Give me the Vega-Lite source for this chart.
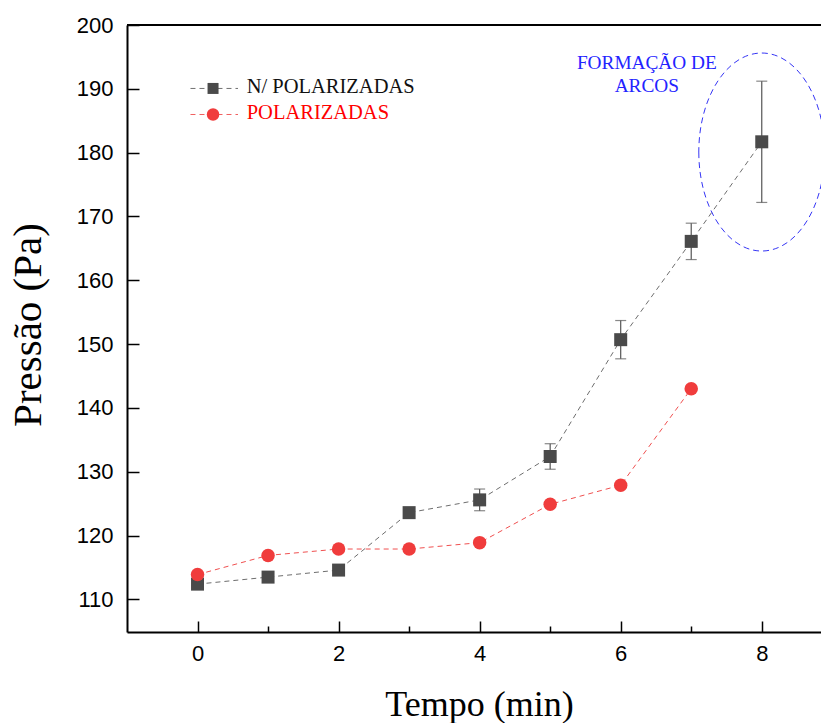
{
  "$schema": "https://vega.github.io/schema/vega-lite/v6.json",
  "width": 694,
  "height": 607,
  "autosize": {"type": "none"},
  "padding": {"left": 127, "top": 25, "right": 0, "bottom": 91},
  "background": "white",
  "config": {"view": {"stroke": null}, "font": "Liberation Sans"},
  "datasets": {
    "medidas": [
      {"serie": "N/ POLARIZADAS", "t": 0, "p": 112.4, "err": 0.4},
      {"serie": "N/ POLARIZADAS", "t": 1, "p": 113.5, "err": 0.4},
      {"serie": "N/ POLARIZADAS", "t": 2, "p": 114.6, "err": 0.5},
      {"serie": "N/ POLARIZADAS", "t": 3, "p": 123.6, "err": 0.4},
      {"serie": "N/ POLARIZADAS", "t": 4, "p": 125.6, "err": 1.7},
      {"serie": "N/ POLARIZADAS", "t": 5, "p": 132.4, "err": 2.0},
      {"serie": "N/ POLARIZADAS", "t": 6, "p": 150.7, "err": 3.0},
      {"serie": "N/ POLARIZADAS", "t": 7, "p": 166.1, "err": 2.85},
      {"serie": "N/ POLARIZADAS", "t": 8, "p": 181.7, "err": 9.5},
      {"serie": "POLARIZADAS", "t": 0, "p": 113.9},
      {"serie": "POLARIZADAS", "t": 1, "p": 116.9},
      {"serie": "POLARIZADAS", "t": 2, "p": 117.9},
      {"serie": "POLARIZADAS", "t": 3, "p": 117.9},
      {"serie": "POLARIZADAS", "t": 4, "p": 118.9},
      {"serie": "POLARIZADAS", "t": 5, "p": 124.9},
      {"serie": "POLARIZADAS", "t": 6, "p": 127.9},
      {"serie": "POLARIZADAS", "t": 7, "p": 143.0}
    ]
  },
  "data": {"name": "medidas"},
  "layer": [
    {
      "transform": [{"filter": "datum.serie === 'N/ POLARIZADAS'"}],
      "mark": {"type": "line", "color": "#6e6e6e", "strokeWidth": 1, "strokeDash": [5, 4]},
      "encoding": {
        "x": {
          "field": "t", "type": "quantitative", "title": "Tempo (min)",
          "scale": {"domain": [-1, 8.84], "nice": false, "zero": false},
          "axis": {
            "values": [0, 1, 2, 3, 4, 5, 6, 7, 8],
            "format": "d",
            "labelExpr": "datum.value % 2 === 0 ? datum.label : ''",
            "tickSize": {"condition": {"test": "datum.value % 2 === 0", "value": -11}, "value": -6},
            "tickWidth": 1.5, "tickColor": "black",
            "domainColor": "black", "domainWidth": 2,
            "labelFont": "Liberation Sans", "labelFontSize": 22, "labelColor": "black",
            "labelPadding": 22, "labelOverlap": false, "labelFlush": false,
            "grid": false,
            "titleFont": "Liberation Serif", "titleFontSize": 36,
            "titleFontWeight": "normal", "titleColor": "black",
            "titleX": 352, "titleY": 83.5, "titleAlign": "center", "titleBaseline": "alphabetic"
          }
        },
        "y": {
          "field": "p", "type": "quantitative", "title": "Pressão (Pa)",
          "scale": {"domain": [104.9, 200], "nice": false, "zero": false},
          "axis": {
            "values": [110, 115, 120, 125, 130, 135, 140, 145, 150, 155, 160, 165, 170, 175, 180, 185, 190, 195, 200],
            "format": "d",
            "labelExpr": "datum.value % 10 === 0 ? datum.label : ''",
            "tickSize": {"condition": {"test": "datum.value % 10 === 0", "value": -12}, "value": -6},
            "tickWidth": 1.5, "tickColor": "black",
            "domainColor": "black", "domainWidth": 2,
            "labelFont": "Liberation Sans", "labelFontSize": 22, "labelColor": "black",
            "labelPadding": 26, "labelOverlap": false, "labelFlush": false,
            "grid": false,
            "titleFont": "Liberation Serif", "titleFontSize": 41,
            "titleFontWeight": "normal", "titleColor": "black", "titleAngle": -90,
            "titleX": -87, "titleY": 299.5, "titleAlign": "center", "titleBaseline": "alphabetic"
          }
        }
      }
    },
    {
      "transform": [{"filter": "datum.serie === 'POLARIZADAS'"}],
      "mark": {"type": "line", "color": "#f05050", "strokeWidth": 1, "strokeDash": [5, 4]},
      "encoding": {
        "x": {"field": "t", "type": "quantitative", "title": "Tempo (min)"},
        "y": {"field": "p", "type": "quantitative", "title": "Pressão (Pa)"}
      }
    },
    {
      "transform": [{"filter": "datum.err > 0"}],
      "mark": {"type": "errorbar", "color": "#555555", "thickness": 1.2, "ticks": {"size": 11}},
      "encoding": {
        "x": {"field": "t", "type": "quantitative", "title": "Tempo (min)"},
        "y": {"field": "p", "type": "quantitative", "title": "Pressão (Pa)"},
        "yError": {"field": "err"}
      }
    },
    {
      "transform": [{"filter": "datum.serie === 'N/ POLARIZADAS'"}],
      "mark": {"type": "point", "shape": "square", "filled": true, "color": "#4a4a4a", "size": 169, "opacity": 1},
      "encoding": {
        "x": {"field": "t", "type": "quantitative", "title": "Tempo (min)"},
        "y": {"field": "p", "type": "quantitative", "title": "Pressão (Pa)"}
      }
    },
    {
      "transform": [{"filter": "datum.serie === 'POLARIZADAS'"}],
      "mark": {"type": "point", "shape": "circle", "filled": true, "color": "#f03c3c", "size": 182, "opacity": 1},
      "encoding": {
        "x": {"field": "t", "type": "quantitative", "title": "Tempo (min)"},
        "y": {"field": "p", "type": "quantitative", "title": "Pressão (Pa)"}
      }
    },
    {
      "data": {"values": [{}]},
      "mark": {"type": "rule", "color": "black", "strokeWidth": 2},
      "encoding": {
        "x": {"datum": -1, "type": "quantitative"},
        "x2": {"datum": 8.84},
        "y": {"datum": 200, "type": "quantitative"}
      }
    },
    {
      "data": {"values": [{}]},
      "mark": {"type": "text", "font": "Liberation Serif", "fontSize": 19.3, "color": "#2323ff", "lineHeight": 23, "align": "center", "baseline": "middle"},
      "encoding": {
        "x": {"datum": 6.37, "type": "quantitative"},
        "y": {"datum": 194.0, "type": "quantitative"},
        "text": {"value": ["FORMAÇÃO DE", "ARCOS"]}
      }
    },
    {
      "data": {"values": [{}]},
      "mark": {"type": "point", "shape": "M -0.636 0 A 0.636 1 0 1 0 0.636 0 A 0.636 1 0 1 0 -0.636 0 Z", "size": 39204, "filled": false, "color": "#3535f5", "strokeWidth": 1, "strokeDash": [6, 4], "opacity": 1},
      "encoding": {
        "x": {"datum": 8, "type": "quantitative"},
        "y": {"datum": 180.1, "type": "quantitative"}
      }
    },
    {
      "data": {"values": [{}]},
      "mark": {"type": "rule", "color": "#707070", "strokeWidth": 1, "strokeDash": [5, 4]},
      "encoding": {
        "x": {"datum": -0.1, "type": "quantitative"},
        "x2": {"datum": 0.574},
        "y": {"datum": 190.06, "type": "quantitative"}
      }
    },
    {
      "data": {"values": [{}]},
      "mark": {"type": "point", "shape": "square", "filled": true, "color": "#4a4a4a", "size": 121, "opacity": 1},
      "encoding": {
        "x": {"datum": 0.22, "type": "quantitative"},
        "y": {"datum": 190.06, "type": "quantitative"}
      }
    },
    {
      "data": {"values": [{}]},
      "mark": {"type": "text", "font": "Liberation Serif", "fontSize": 20.5, "align": "left", "baseline": "middle", "color": "#111111"},
      "encoding": {
        "x": {"datum": 0.697, "type": "quantitative"},
        "y": {"datum": 190.3, "type": "quantitative"},
        "text": {"value": "N/ POLARIZADAS"}
      }
    },
    {
      "data": {"values": [{}]},
      "mark": {"type": "rule", "color": "#f06060", "strokeWidth": 1, "strokeDash": [5, 4]},
      "encoding": {
        "x": {"datum": -0.1, "type": "quantitative"},
        "x2": {"datum": 0.574},
        "y": {"datum": 185.98, "type": "quantitative"}
      }
    },
    {
      "data": {"values": [{}]},
      "mark": {"type": "point", "shape": "circle", "filled": true, "color": "#f03c3c", "size": 156, "opacity": 1},
      "encoding": {
        "x": {"datum": 0.22, "type": "quantitative"},
        "y": {"datum": 185.98, "type": "quantitative"}
      }
    },
    {
      "data": {"values": [{}]},
      "mark": {"type": "text", "font": "Liberation Serif", "fontSize": 20.5, "align": "left", "baseline": "middle", "color": "#ff0000"},
      "encoding": {
        "x": {"datum": 0.697, "type": "quantitative"},
        "y": {"datum": 186.2, "type": "quantitative"},
        "text": {"value": "POLARIZADAS"}
      }
    }
  ]
}
